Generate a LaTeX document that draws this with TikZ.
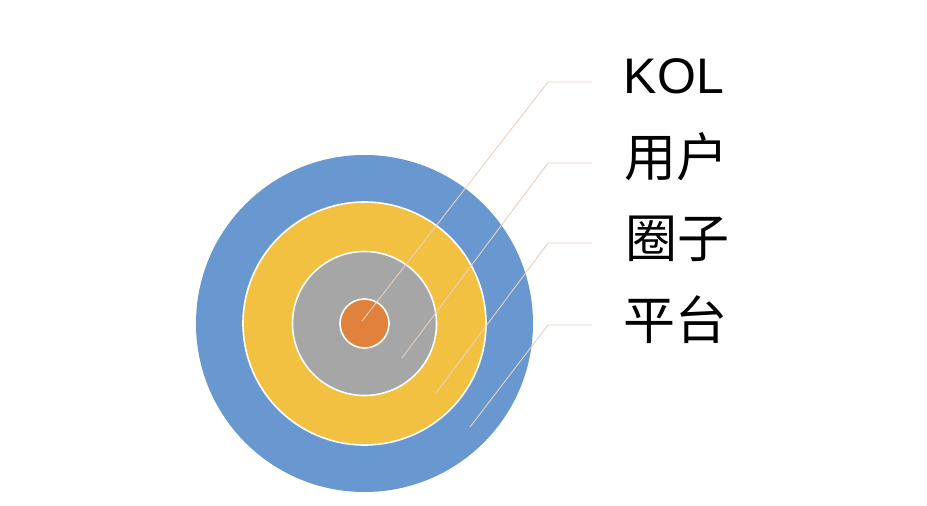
\documentclass[tikz,border=0pt]{standalone}
\usepackage{fontspec}
\setmainfont{Liberation Sans}
\newfontfamily\cjk{Noto Sans CJK SC}
\definecolor{ringblue}{RGB}{104,152,207}
\definecolor{ringgold}{RGB}{243,193,66}
\definecolor{ringgray}{RGB}{166,166,166}
\definecolor{ringorange}{RGB}{224,130,60}
\definecolor{leader}{RGB}{232,208,192}
\begin{document}
\begin{tikzpicture}[x=1pt,y=-1pt,
  ring/.style={circle,draw=white,line width=1.6pt,inner sep=0pt,minimum size=#1},
  leaderline/.style={draw=leader,line width=0.9pt},
  lbl/.style={inner sep=0pt,text=black},
  latinlbl/.style={lbl,font=\fontsize{50}{50}\selectfont},
  cjklbl/.style={lbl,font=\cjk\fontsize{52}{52}\selectfont}]
\useasboundingbox (0,0) rectangle (927,506);
\fill[white] (0,0) rectangle (927,506);
% rings
\node[ring=337pt,fill=ringblue,draw=none] (platform) at (364.5,323.5) {};
\node[ring=243pt,fill=ringgold] (circle) at (364.5,323.5) {};
\node[ring=144pt,fill=ringgray] (user) at (364.5,323.5) {};
\node[ring=49pt,fill=ringorange] (kol) at (364.5,323.5) {};
% labels
\node[latinlbl] (tkol) at (674,76) {KOL};
\node[cjklbl] (tuser) at (676,157) {用户};
\node[cjklbl] (tcircle) at (677,239) {圈子};
\node[cjklbl] (tplat) at (675,320) {平台};
% leader points
\coordinate (a1) at (592,82);  \coordinate (b1) at (548,82);  \coordinate (c1) at (362,321);
\coordinate (a2) at (592,163); \coordinate (b2) at (548,163); \coordinate (c2) at (402,358);
\coordinate (a3) at (592,243); \coordinate (b3) at (548,243); \coordinate (c3) at (436,393);
\coordinate (a4) at (592,325); \coordinate (b4) at (548,325); \coordinate (c4) at (470,427);
\draw[leaderline] (a1) -- (b1) -- (c1);
\draw[leaderline] (a2) -- (b2) -- (c2);
\draw[leaderline] (a3) -- (b3) -- (c3);
\draw[leaderline] (a4) -- (b4) -- (c4);
\end{tikzpicture}
\end{document}
